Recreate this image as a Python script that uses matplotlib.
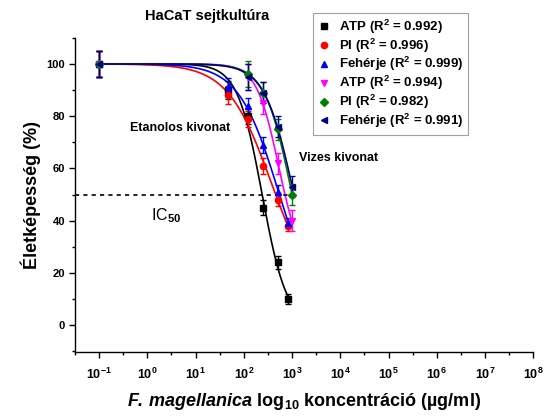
import numpy as np
import matplotlib
matplotlib.use('Agg')
import matplotlib.pyplot as plt
from matplotlib.lines import Line2D
from matplotlib.ticker import FixedLocator, NullFormatter

plt.rcParams['font.family'] = ['Liberation Sans', 'DejaVu Sans']
plt.rcParams['font.weight'] = 'bold'
plt.rcParams['mathtext.fontset'] = 'custom'
plt.rcParams['mathtext.rm'] = 'Liberation Sans:bold'
plt.rcParams['mathtext.bf'] = 'Liberation Sans:bold'
plt.rcParams['mathtext.it'] = 'Liberation Sans:italic:bold'
plt.rcParams['mathtext.bfit'] = 'Liberation Sans:italic:bold'

# concentrations (ug/ml)
conc_eth = [0.1, 47, 120, 255, 510, 830]
conc_aq = [0.1, 120, 255, 510, 1000]

# viability (%) - ethanol extract
atp_eth = [100, 90, 80, 45, 24, 10]
pi_eth = [100, 88, 79, 61, 48, 38]
prot_eth = [100, 91, 84, 69, 51, 39]
err_eth = [5, 3.5, 3, 3, 2.5, 2]

# viability (%) - aqueous extract
atp_aq = [100, 95, 85, 62, 40]
pi_aq = [100, 96, 89, 75, 50]
prot_aq = [100, 95, 89, 76, 53]
err_aq = [5, 5, 4, 4, 4]

labels = ['ATP (R$^2$ = 0.992)', 'PI (R$^2$ = 0.996)', 'Fehérje (R$^2$ = 0.999)',
          'ATP (R$^2$ = 0.994)', 'PI (R$^2$ = 0.982)', 'Fehérje (R$^2$ = 0.991)']


def hill(x, ic50, h, bottom):
    return bottom + (100.0 - bottom) / (1.0 + (x / ic50) ** h)


def fit_hill(x, y):
    # crude grid search for the dose-response curve
    x = np.asarray(x, float)
    y = np.asarray(y, float)
    lic = np.linspace(1.5, 4.0, 126)[:, None, None, None]
    h = np.linspace(0.5, 6.0, 111)[None, :, None, None]
    bot = np.linspace(0, 30, 16)[None, None, :, None]
    pred = hill(x[None, None, None, :], 10 ** lic, h, bot)
    r = np.sum((pred - y) ** 2, axis=-1)
    i, j, k = np.unravel_index(np.argmin(r), r.shape)
    return 10 ** lic[i, 0, 0, 0], h[0, j, 0, 0], bot[0, 0, k, 0]


series = [
    (conc_eth, atp_eth, err_eth, 'black', 's'),
    (conc_eth, pi_eth, err_eth, 'red', 'o'),
    (conc_eth, prot_eth, err_eth, 'blue', '^'),
    (conc_aq, atp_aq, err_aq, 'magenta', 'v'),
    (conc_aq, pi_aq, err_aq, 'green', 'D'),
    (conc_aq, prot_aq, err_aq, 'navy', '<'),
]

fig = plt.figure(figsize=(5.47, 4.16), dpi=100)
ax = fig.add_axes([0.137, 0.154, 0.838, 0.755])

handles = []
for (x, y, e, c, m), lab in zip(series, labels):
    ic50, h, bot = fit_hill(x, y)
    xs = np.logspace(-1, np.log10(x[-1]), 300)
    ax.plot(xs, hill(xs, ic50, h, bot), color=c, lw=1.2, zorder=2)
    ms = 4.5 if m != 'D' else 3.8
    ax.errorbar(x, y, yerr=e, fmt=m, color=c, ms=ms,
                capsize=2.5, elinewidth=1.0, capthick=1.0, zorder=3)
    handles.append(Line2D([], [], ls='none', marker=m, color=c, ms=ms, label=lab))

ax.plot([10 ** -1.5, 10 ** 3.1], [50, 50], color='black', ls=(0, (2.5, 2.5)), lw=1.2)

ax.set_xscale('log')
ax.set_xlim(10 ** -1.5, 1e8)
ax.set_ylim(-10.3, 110)

ax.xaxis.set_major_locator(FixedLocator([10.0 ** k for k in range(-1, 9)]))
ax.xaxis.set_minor_locator(FixedLocator([10.0 ** (k + 0.5) for k in range(-2, 8)]))
ax.xaxis.set_minor_formatter(NullFormatter())
ax.set_xticklabels(['$10^{%d}$' % k for k in range(-1, 9)])
ax.yaxis.set_major_locator(FixedLocator([0, 20, 40, 60, 80, 100]))
ax.yaxis.set_minor_locator(FixedLocator([-10, 10, 30, 50, 70, 90, 110]))

ax.tick_params(axis='x', which='major', length=4, width=1, labelsize=9, pad=7)
ax.tick_params(axis='y', which='major', length=4, width=1, labelsize=8, pad=3)
ax.tick_params(which='minor', length=2.5, width=1)
for lbl in ax.get_yticklabels():
    lbl.set_fontweight('bold')

for side in ('top', 'right'):
    ax.spines[side].set_visible(False)
for side in ('left', 'bottom'):
    ax.spines[side].set_linewidth(1.0)

ax.set_ylabel('Életképesség (%)', fontsize=13, fontweight='bold', labelpad=4)
ax.set_xlabel(r'$\mathbfit{F.\,magellanica}$ log$_{\mathbf{10}}$ koncentráció (µg/ml)',
              fontsize=13, fontweight='bold', labelpad=6)

ax.text(0.43, 75.5, 'Etanolos kivonat', fontsize=9, fontweight='bold', va='center')
ax.text(1400, 64, 'Vizes kivonat', fontsize=9, fontweight='bold', va='center')
ax.text(1.2, 42, 'IC$_{50}$', fontsize=11.5, fontweight='normal', va='center')

fig.text(0.378, 0.962, 'HaCaT sejtkultúra', fontsize=10.5, fontweight='bold',
         ha='center', va='center')

leg = ax.legend(handles=handles, loc='upper left', bbox_to_anchor=(0.572, 0.969),
                bbox_transform=fig.transFigure, fontsize=9.5, frameon=True,
                fancybox=False, edgecolor='#888888', handlelength=1.0,
                handletextpad=0.6, labelspacing=0.05, borderpad=0.35,
                borderaxespad=0)
leg.get_frame().set_linewidth(0.8)
for t in leg.get_texts():
    t.set_fontweight('bold')

fig.savefig('out.png', dpi=100)
